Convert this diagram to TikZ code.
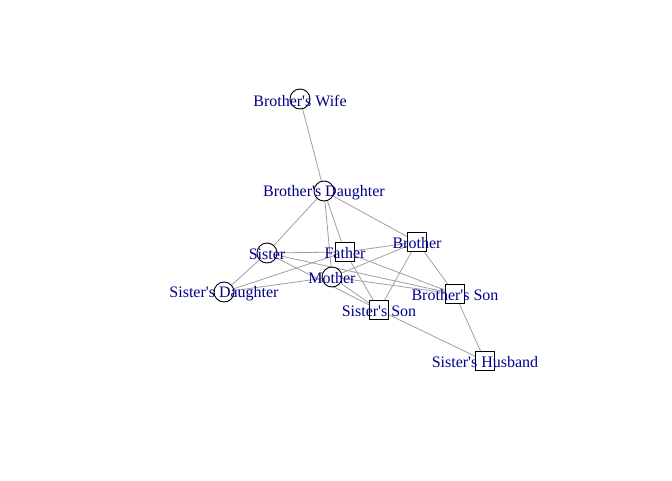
\documentclass[tikz,border=0pt]{standalone}
\usepackage{fontspec}
\setmainfont{Liberation Serif}
\usetikzlibrary{backgrounds}
\definecolor{labblue}{HTML}{00008B}
\definecolor{edgegray}{HTML}{A0A0A0}
\newcommand{\ap}{\textquotesingle}
\tikzset{
  vc/.style={circle,draw=black,fill=white,line width=0.9pt,minimum size=20pt,inner sep=0pt},
  vs/.style={rectangle,draw=black,fill=white,line width=0.9pt,minimum size=19pt,inner sep=0pt},
  lab/.style={text=labblue,font=\fontsize{16}{18}\selectfont,inner sep=0pt,yshift=-1.5pt},
  edge/.style={draw=edgegray,line width=0.8pt}
}
\begin{document}
\begin{tikzpicture}[x=1pt,y=-1pt]
\useasboundingbox (0,0) rectangle (672,480);
\node[vc] (bw) at (300,99) {};
\node[vc] (bd) at (324,191) {};
\node[vc] (si) at (267,253) {};
\node[vs] (fa) at (345,252) {};
\node[vs] (br) at (417,242) {};
\node[vc] (mo) at (332,277) {};
\node[vc] (sd) at (224,292) {};
\node[vs] (ss) at (379,310) {};
\node[vs] (bs) at (455,294) {};
\node[vs] (sh) at (485,361) {};
\begin{pgfonlayer}{background}
\draw[edge] (bw) -- (bd);
\draw[edge] (bd) -- (si);
\draw[edge] (bd) -- (fa);
\draw[edge] (bd) -- (mo);
\draw[edge] (bd) -- (br);
\draw[edge] (si) -- (fa);
\draw[edge] (si) -- (sd);
\draw[edge] (si) -- (ss);
\draw[edge] (si) -- (bs);
\draw[edge] (sd) -- (fa);
\draw[edge] (sd) -- (mo);
\draw[edge] (fa) -- (br);
\draw[edge] (fa) -- (bs);
\draw[edge] (fa) -- (ss);
\draw[edge] (mo) -- (br);
\draw[edge] (mo) -- (bs);
\draw[edge] (mo) -- (ss);
\draw[edge] (br) -- (bs);
\draw[edge] (br) -- (ss);
\draw[edge] (ss) -- (sh);
\draw[edge] (bs) -- (sh);
\end{pgfonlayer}
\node[lab] (bwl) at (bw) {Brother\ap s Wife};
\node[lab] (bdl) at (bd) {Brother\ap s Daughter};
\node[lab] (sil) at (si) {Sister};
\node[lab] (fal) at (fa) {Father};
\node[lab] (brl) at (br) {Brother};
\node[lab] (mol) at (mo) {Mother};
\node[lab] (sdl) at (sd) {Sister\ap s Daughter};
\node[lab] (ssl) at (ss) {Sister\ap s Son};
\node[lab] (bsl) at (bs) {Brother\ap s Son};
\node[lab] (shl) at (sh) {Sister\ap s Husband};
\end{tikzpicture}
\end{document}
